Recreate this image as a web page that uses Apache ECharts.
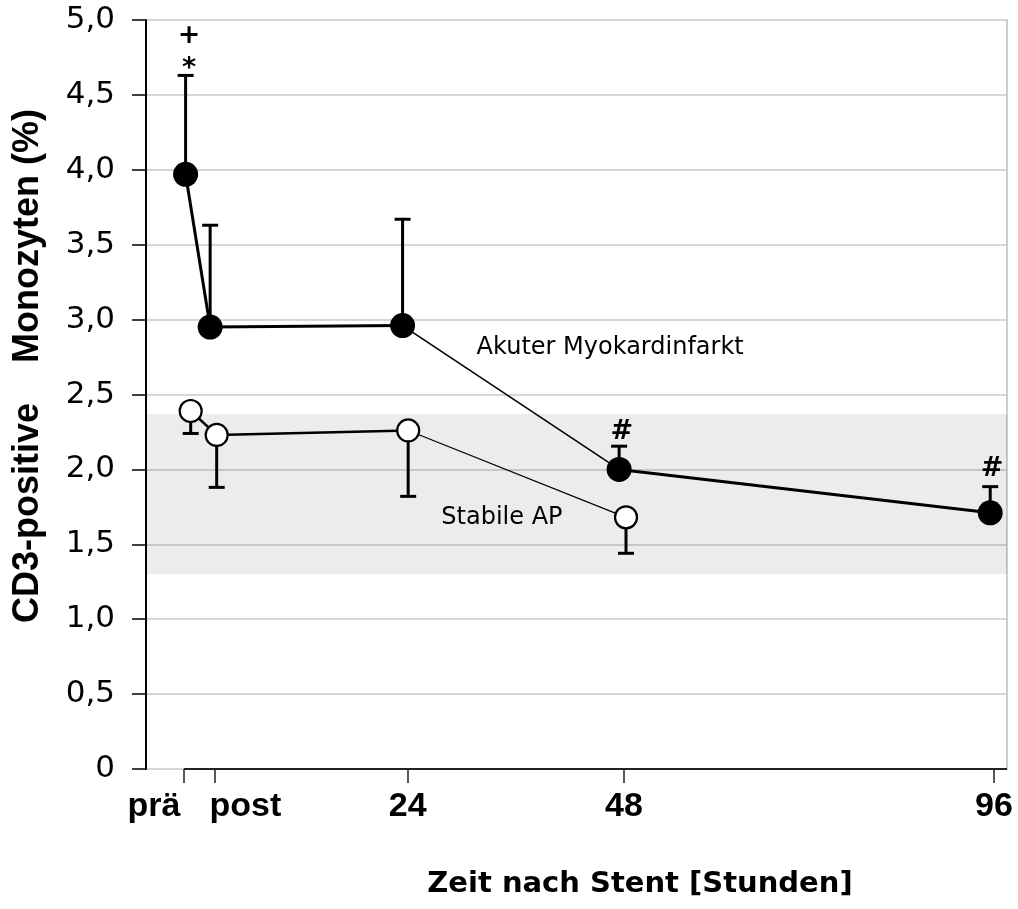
<!DOCTYPE html>
<html>
<head>
<meta charset="utf-8">
<script src="https://cdn.jsdelivr.net/npm/echarts@6/dist/echarts.min.js"></script>
<style>
  html, body { margin: 0; padding: 0; background: #fff; }
  #chart { width: 1018px; height: 909px; }
</style>
</head>
<body>
<div id="chart"></div>
<script>
// Zeitpunkte (Position auf der x-Achse, 0..100)
const slotLabels = ['prä', 'post', '24', '48', '96'];
const slotPos = [4.41, 8.01, 30.39, 55.52, 98.49];

// Akuter Myokardinfarkt (gefüllte Punkte), Fehlerbalken nach oben
const akutX = [4.6, 7.45, 29.8, 54.95, 98.05];
const akutMean = [3.97, 2.95, 2.96, 2.00, 1.71];
const akutErr = [0.66, 0.68, 0.71, 0.155, 0.175];

// Stabile AP (offene Punkte), Fehlerbalken nach unten
const stabilX = [5.19, 8.21, 30.45, 55.75];
const stabilMean = [2.39, 2.23, 2.26, 1.68];
const stabilErr = [0.15, 0.35, 0.44, 0.24];

// Normalbereich (grau hinterlegt)
const bandRange = [1.30, 2.37];

// Signifikanz-Zeichen
const signText = ['+', '*', '#', '#'];
const signX = [4.99, 4.99, 55.25, 98.26];
const signY = [4.89, 4.67, 2.25, 2.0];

// Gruppenbeschriftung
const groupText = ['Akuter Myokardinfarkt', 'Stabile AP'];
const groupX = [38.4, 34.3];
const groupY = [2.81, 1.68];

const akutSegWidth = [3, 3, 1.6, 3];
const stabilSegWidth = [2.5, 2.5, 1.2];

const chart = echarts.init(document.getElementById('chart'));

function segments(xs, ys, widths) {
  return widths.map((w, i) => ({
    type: 'line',
    data: [[xs[i], ys[i]], [xs[i + 1], ys[i + 1]]],
    symbol: 'none',
    lineStyle: { color: '#000', width: w },
    z: 3,
    silent: true
  }));
}

function errorBars(xs, ys, errs, dir) {
  return {
    type: 'custom',
    data: xs.map((x, i) => [x, ys[i], errs[i]]),
    z: 4,
    silent: true,
    renderItem(params, api) {
      const p0 = api.coord([api.value(0), api.value(1)]);
      const p1 = api.coord([api.value(0), api.value(1) + dir * api.value(2)]);
      const cap = 8;
      return {
        type: 'group',
        children: [
          { type: 'line', shape: { x1: p0[0], y1: p0[1], x2: p1[0], y2: p1[1] }, style: { stroke: '#000', lineWidth: 3 } },
          { type: 'line', shape: { x1: p1[0] - cap, y1: p1[1], x2: p1[0] + cap, y2: p1[1] }, style: { stroke: '#000', lineWidth: 3 } }
        ]
      };
    }
  };
}

const fmtY = v => v === 0 ? '0' : v.toFixed(1).replace('.', ',');

chart.setOption({
  animation: false,
  backgroundColor: '#fff',
  grid: { left: 146, right: 11, top: 20, bottom: 140 },
  xAxis: {
    type: 'value',
    min: 0,
    max: 100,
    axisLine: { show: false },
    splitLine: { show: false },
    axisTick: {
      show: true,
      customValues: slotPos,
      length: 14,
      lineStyle: { color: '#222', width: 1.5 }
    },
    axisLabel: {
      customValues: slotPos,
      margin: 21,
      formatter: v => {
        const i = slotPos.indexOf(v);
        const t = slotLabels[i];
        if (t === 'prä') return '{l|' + t + '}';
        if (t === 'post') return '{r|' + t + '}';
        return t;
      },
      color: '#000',
      fontFamily: 'Liberation Sans',
      fontWeight: 'bold',
      fontSize: 34,
      rich: {
        l: { fontFamily: 'Liberation Sans', fontWeight: 'bold', fontSize: 34, color: '#000', padding: [0, 60, 0, 0] },
        r: { fontFamily: 'Liberation Sans', fontWeight: 'bold', fontSize: 34, color: '#000', padding: [0, 0, 0, 61] }
      }
    }
  },
  yAxis: [{
    type: 'value',
    min: 0,
    max: 5,
    interval: 0.5,
    axisLine: { show: true, lineStyle: { color: '#000', width: 2 } },
    axisTick: { show: true, inside: false, length: 14, lineStyle: { color: '#000', width: 1.5 } },
    axisLabel: { formatter: fmtY, margin: 31, color: '#000', fontFamily: 'DejaVu Sans', fontSize: 31 },
    splitLine: { show: true, lineStyle: { color: '#c8c8c8', width: 1.5 } }
  }, {
    type: 'value',
    position: 'right',
    min: 0,
    max: 5,
    interval: 0.5,
    axisLine: { show: true, lineStyle: { color: '#bdbdbd', width: 1.5 } },
    axisTick: { show: false },
    axisLabel: { show: false },
    splitLine: { show: false }
  }],
  graphic: [{
    type: 'text',
    x: 28, y: 366,
    rotation: Math.PI / 2,
    style: {
      text: 'CD3-positive    Monozyten (%)',
      font: 'bold 36px "Liberation Sans"',
      fill: '#000',
      align: 'center',
      verticalAlign: 'middle'
    }
  }, {
    type: 'text',
    x: 640, y: 884,
    style: {
      text: 'Zeit nach Stent [Stunden]',
      font: 'bold 29px "DejaVu Sans"',
      fill: '#000',
      align: 'center',
      verticalAlign: 'middle'
    }
  }],
  series: [
    {
      type: 'line',
      data: [],
      silent: true,
      markArea: {
        silent: true,
        itemStyle: { color: 'rgba(0,0,0,0.075)' },
        data: [[{ yAxis: bandRange[1] }, { yAxis: bandRange[0] }]]
      },
      markLine: {
        silent: true,
        symbol: 'none',
        label: { show: false },
        lineStyle: { color: '#222', width: 2, type: 'solid' },
        data: [[{ coord: [slotPos[0], 0] }, { coord: [100, 0] }]]
      }
    },
    ...segments(akutX, akutMean, akutSegWidth),
    ...segments(stabilX, stabilMean, stabilSegWidth),
    errorBars(akutX, akutMean, akutErr, 1),
    errorBars(stabilX, stabilMean, stabilErr, -1),
    {
      type: 'scatter',
      data: akutX.map((x, i) => [x, akutMean[i]]),
      symbol: 'circle',
      symbolSize: 25,
      itemStyle: { color: '#000', opacity: 1 },
      z: 5,
      silent: true
    },
    {
      type: 'scatter',
      data: stabilX.map((x, i) => [x, stabilMean[i]]),
      symbol: 'circle',
      symbolSize: 22,
      itemStyle: { color: '#fff', borderColor: '#000', borderWidth: 2.2, opacity: 1 },
      z: 5,
      silent: true
    },
    {
      type: 'scatter',
      data: signX.map((x, i) => ({ value: [x, signY[i]], name: signText[i] })),
      symbolSize: 0,
      itemStyle: { opacity: 1 },
      z: 6,
      silent: true,
      label: {
        show: true,
        position: 'inside',
        formatter: p => p.name,
        color: '#000',
        opacity: 1,
        fontFamily: 'DejaVu Sans',
        fontWeight: 'bold',
        fontSize: 27
      }
    },
    {
      type: 'scatter',
      data: groupX.map((x, i) => ({ value: [x, groupY[i]], name: groupText[i] })),
      symbolSize: 0,
      itemStyle: { opacity: 1 },
      z: 6,
      silent: true,
      label: {
        show: true,
        position: 'right',
        distance: 0,
        formatter: p => p.name,
        color: '#000',
        opacity: 1,
        fontFamily: 'DejaVu Sans',
        fontSize: 24
      }
    }
  ]
});
</script>
</body>
</html>
